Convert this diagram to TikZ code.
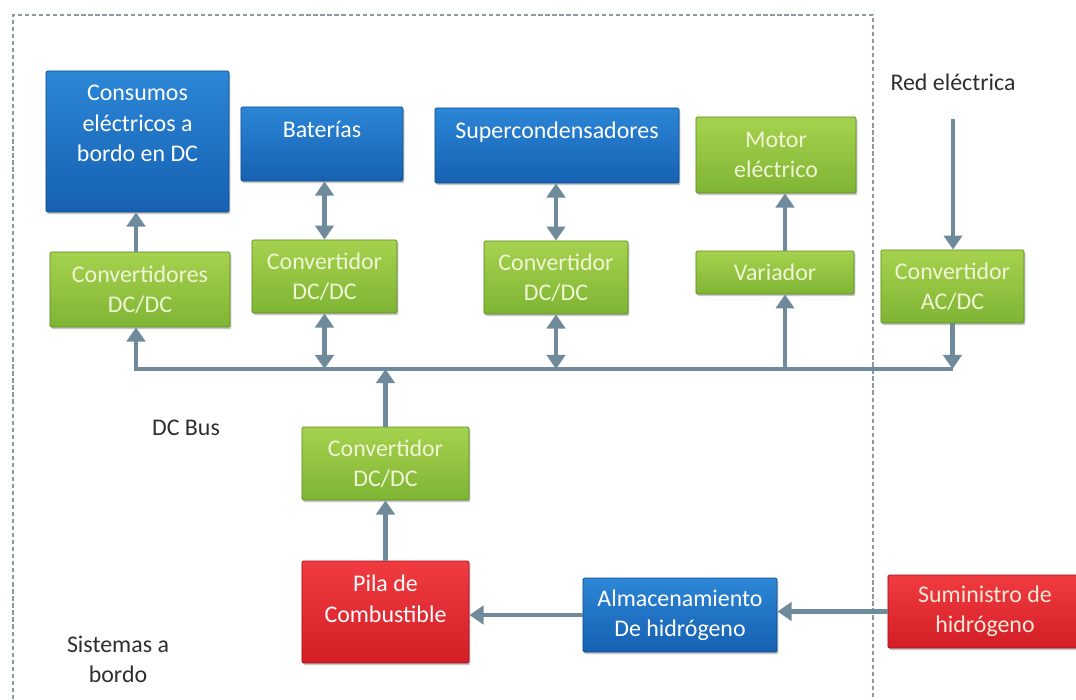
\documentclass[tikz,border=0pt]{standalone}
\usepackage{fontspec}
\setmainfont{Carlito}
\usetikzlibrary{arrows.meta,shadows}
\definecolor{blueTop}{HTML}{2C86D6}
\definecolor{blueBot}{HTML}{1660B2}
\definecolor{blueEdge}{HTML}{124F8C}
\definecolor{greenTop}{HTML}{A6D24E}
\definecolor{greenBot}{HTML}{7FB434}
\definecolor{greenEdge}{HTML}{5B8A22}
\definecolor{greenText}{HTML}{F0F6D6}
\definecolor{redTop}{HTML}{F03B40}
\definecolor{redBot}{HTML}{D41E27}
\definecolor{redEdge}{HTML}{9E1219}
\definecolor{redText}{HTML}{F8E9DA}
\definecolor{busgray}{HTML}{6F8A9B}
\definecolor{framegray}{HTML}{8A9AAA}
\definecolor{labelgray}{HTML}{2E2E2E}
\begin{document}
\begin{tikzpicture}[x=0.025cm,y=-0.025cm,
  box/.style={rectangle, rounded corners=1pt, line width=0.6pt, align=center,
    font=\fontsize{17}{21.5}\selectfont,
    drop shadow={shadow xshift=1pt,shadow yshift=-1.5pt,opacity=0.45}},
  bluebox/.style={box, top color=blueTop, bottom color=blueBot, draw=blueEdge, text=white},
  greenbox/.style={box, top color=greenTop, bottom color=greenBot, draw=greenEdge, text=greenText},
  redbox/.style={box, top color=redTop, bottom color=redBot, draw=redEdge, text=white},
  toptext/.style={anchor=north, yshift=-7pt, align=center, text=white,
    font=\fontsize{17}{21.5}\selectfont},
  plain/.style={align=center, text=labelgray, font=\fontsize{17}{21.5}\selectfont},
  flow/.style={draw=busgray, line width=3.5pt, -{Triangle[width=13pt,length=10pt]}},
  dflow/.style={flow, {Triangle[width=13pt,length=10pt]}-{Triangle[width=13pt,length=10pt]}},
  frame/.style={draw=framegray, line width=0.8pt, dash pattern=on 3pt off 2pt}]
\useasboundingbox (0,0) rectangle (1076,699);

\draw[frame] (13,699) -- (13,15) -- (873,15) -- (873,699);

\node[bluebox, minimum width=4.575cm, minimum height=3.525cm,
  label={[toptext]north:{Consumos\\eléctricos a\\bordo en DC}}] (consumos) at (137.5,141.5) {};
\node[bluebox, minimum width=4.05cm, minimum height=1.85cm,
  label={[toptext]north:Baterías}] (baterias) at (322,144) {};
\node[bluebox, minimum width=6.1cm, minimum height=1.875cm,
  label={[toptext]north:Supercondensadores}] (supercond) at (557,145.5) {};
\node[greenbox, minimum width=4cm, minimum height=1.9cm] (motor) at (776,155) {Motor\\eléctrico};

\node[greenbox, minimum width=4.5cm, minimum height=1.875cm] (convcons) at (140,289.5) {Convertidores\\DC/DC};
\node[greenbox, minimum width=3.625cm, minimum height=1.825cm] (convbat) at (324.5,276.5) {Convertidor\\DC/DC};
\node[greenbox, minimum width=3.6cm, minimum height=1.825cm] (convsup) at (556,277.5) {Convertidor\\DC/DC};
\node[greenbox, minimum width=3.95cm, minimum height=1.075cm] (variador) at (775,272.5) {Variador};
\node[greenbox, minimum width=3.575cm, minimum height=1.825cm] (convac) at (952.5,286.5) {Convertidor\\AC/DC};
\node[plain] (red) at (953,82) {Red eléctrica};

\node[greenbox, minimum width=4.175cm, minimum height=1.825cm] (convfc) at (385.5,463.5) {Convertidor\\DC/DC};
\node[redbox, minimum width=4.175cm, minimum height=2.55cm,
  label={[toptext]north:{Pila de\\Combustible}}] (pila) at (385.5,612) {};
\node[bluebox, minimum width=4.85cm, minimum height=1.85cm] (almac) at (680,615) {Almacenamiento\\De hidrógeno};
\node[redbox, text=redText, minimum width=4.85cm, minimum height=1.825cm] (sumin) at (985,611.5) {Suministro de\\hidrógeno};

\node[plain] (dcbus) at (186,428) {DC Bus};
\node[plain] (abordo) at (118,659) {Sistemas a\\bordo};

\coordinate (busL) at (136,369);
\coordinate (busR) at (952.5,369);
\coordinate (varout) at ([xshift=0.25cm]variador.north);
\coordinate (varin) at ([xshift=0.25cm]variador.south);

\draw[flow] (busR) -- (busL) -- (busL |- convcons.south);
\draw[flow] (busL |- convcons.north) -- (busL |- consumos.south);
\draw[dflow] (convbat.north) -- (convbat.north |- baterias.south);
\draw[dflow] (convbat.south) -- (convbat.south |- busL);
\draw[dflow] (convsup.north) -- (convsup.north |- supercond.south);
\draw[dflow] (convsup.south) -- (convsup.south |- busL);
\draw[flow] (varout) -- (varout |- motor.south);
\draw[flow] (varin |- busL) -- (varin);
\draw[flow, shorten <=0.6cm] (red.south) -- (red.south |- convac.north);
\draw[flow] (convac.south) -- (busR);

\draw[flow] (convfc.north) -- (convfc.north |- busL);
\draw[flow] (pila.north) -- (convfc.south);
\draw[flow] (almac.west) -- (almac.west -| pila.east);
\draw[flow] (sumin.west) -- (sumin.west -| almac.east);
\end{tikzpicture}
\end{document}
